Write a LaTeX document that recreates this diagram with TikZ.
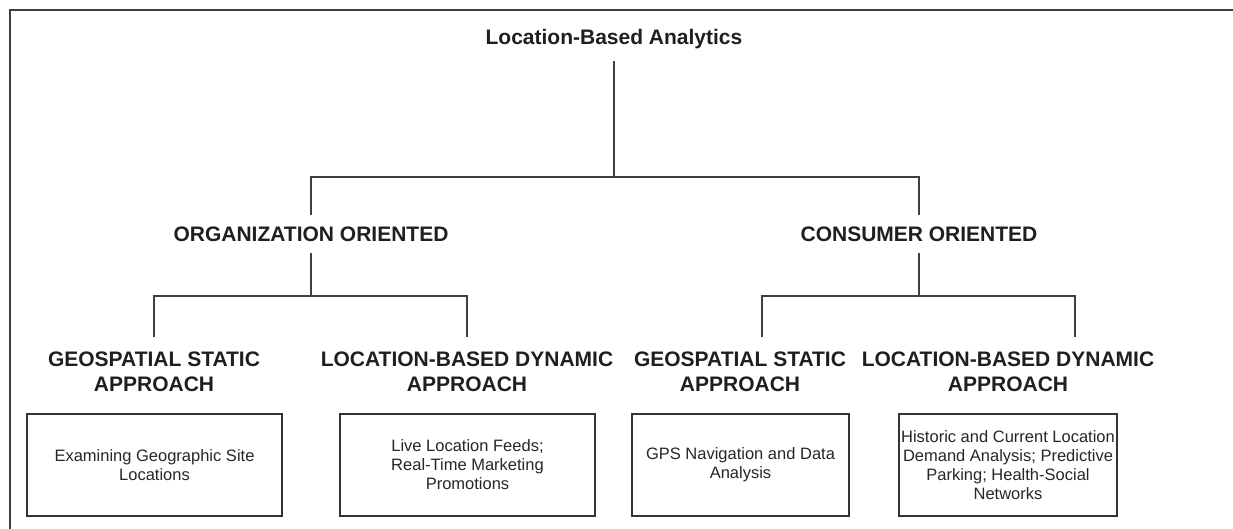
\documentclass[tikz,border=0pt]{standalone}
\usepackage{fontspec}
\setmainfont{Liberation Sans}
\usetikzlibrary{calc}

\begin{document}
\begin{tikzpicture}[
  x=1pt, y=-1pt,
  head/.style={font=\bfseries\fontsize{21}{25}\selectfont, align=center, text=black!88},
  onerow/.style={text height=15pt, text depth=0pt},
  item/.style={draw=black!80, line width=1.1pt, align=center, inner sep=2pt,
    minimum height=102pt, font=\fontsize{16.5}{19}\selectfont, text=black!85},
  link/.style={draw=black!75, line width=1.1pt},
]
\useasboundingbox (0,0) rectangle (1233,529);
% outer frame (open at right and bottom)
\draw[black!75, line width=1.4pt] (10,529) |- (1233,10);
% Level 1
\node[head, onerow, inner ysep=16pt] (lba) at (614,37.5) {Location-Based Analytics};
% Level 2
\node[head, onerow, inner ysep=11.5pt] (org) at (311,234) {ORGANIZATION ORIENTED};
\node[head, onerow, inner ysep=11.5pt] (con) at (919,234) {CONSUMER ORIENTED};
\coordinate (bar) at (614,177);
\draw[link] (lba.south) -- (bar);
\draw[link] (org.north) |- (bar) -| (con.north);
% Level 3
\node[head, anchor=north, inner ysep=15pt] (ogs) at (154,337) {GEOSPATIAL STATIC\\APPROACH};
\node[head, anchor=north, inner ysep=15pt] (old) at (467,337) {LOCATION-BASED DYNAMIC\\APPROACH};
\node[head, anchor=north, inner ysep=15pt] (cgs) at (740,337) {GEOSPATIAL STATIC\\APPROACH};
\node[head, anchor=north, inner ysep=15pt] (cld) at (1008,337) {LOCATION-BASED DYNAMIC\\APPROACH};
\coordinate (obar) at (311,296);
\draw[link] (org.south) -- (obar);
\draw[link] (ogs.north) |- (obar) -| (old.north);
\coordinate (cbar) at (919,296);
\coordinate (cl) at (762,296);
\coordinate (cr) at (1075,296);
\draw[link] (con.south) -- (cbar);
\draw[link] (cl |- cgs.north) -- (cl) -- (cr) -- (cr |- cld.north);
% Level 4: examples
\node[item, minimum width=255pt] (b1) at (154.5,465) {Examining Geographic Site\\Locations};
\node[item, minimum width=255pt] (b2) at (467.5,465) {Live Location Feeds;\\Real-Time Marketing\\Promotions};
\node[item, minimum width=217pt] (b3) at (740.5,465) {GPS Navigation and Data\\Analysis};
\node[item, minimum width=218pt] (b4) at (1008,465) {Historic and Current Location\\Demand Analysis; Predictive\\Parking; Health-Social\\Networks};
\end{tikzpicture}
\end{document}
